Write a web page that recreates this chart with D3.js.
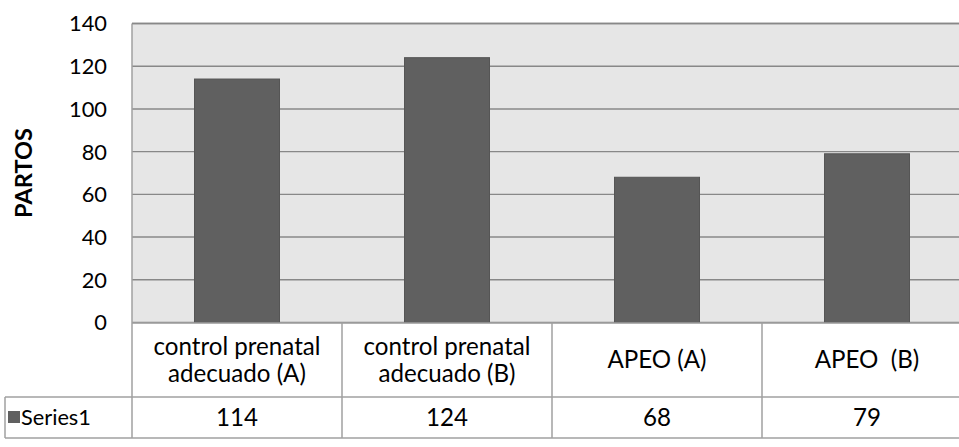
<!DOCTYPE html>
<html><head><meta charset="utf-8">
<script src="https://cdn.jsdelivr.net/npm/d3@7"></script>
<style>html,body{margin:0;padding:0;background:#fff;overflow:hidden}</style>
</head><body>
<svg id="c" width="959" height="447"></svg>
<script>
const categories = [["control prenatal","adecuado (A)"],["control prenatal","adecuado (B)"],["APEO (A)"],["APEO  (B)"]];
const seriesName = "Series1";
const values = [114, 124, 68, 79];
const yTicks = [0, 20, 40, 60, 80, 100, 120, 140];
const yTitle = "PARTOS";

const font = "Lato, 'Open Sans', sans-serif";
const svg = d3.select("#c");
const L = 132, R = 972, T = 23.5, B = 322.5;
const rowDiv = 397, tBot = 438, tLeft = 5;

// helper: font size that makes a sample string a given width
function fitSize(sample, target, weight) {
  const t = svg.append("text").attr("font-family", font).attr("font-size", 100)
    .attr("font-weight", weight || "normal").style("white-space", "pre").text(sample);
  const w = t.node().getComputedTextLength();
  t.remove();
  return 100 * target / w;
}
const fsTick = fitSize("140", 38);
const fsTable = fitSize("control prenatal", 167);
const fsSeries = fitSize(seriesName, 70);
const fsTitle = fitSize(yTitle, 90, "bold");

const x = d3.scaleBand().domain(d3.range(values.length)).range([L, R]).paddingInner(125/210).paddingOuter(125/420);
const y = d3.scaleLinear().domain([0, 140]).range([B, T]);
const step = x.step();

svg.append("rect").attr("x", L).attr("y", T).attr("width", R - L).attr("height", B - T).attr("fill", "#e6e6e6");

svg.append("g").selectAll("line").data(yTicks).join("line")
  .attr("x1", L).attr("x2", R).attr("y1", d => y(d)).attr("y2", d => y(d))
  .attr("stroke", "#888").attr("stroke-width", 1.4);

svg.append("g").selectAll("rect").data(values).join("rect")
  .attr("x", (d, i) => x(i)).attr("width", x.bandwidth())
  .attr("y", d => y(d)).attr("height", d => y(0) - y(d))
  .attr("fill", "#606060").attr("stroke", "#555").attr("stroke-width", 1);

svg.append("g").selectAll("text").data(yTicks).join("text")
  .attr("x", 107).attr("y", d => y(d)).attr("dy", "0.36em")
  .attr("text-anchor", "end").attr("font-family", font).attr("font-size", fsTick).attr("fill", "#000")
  .text(d => d);

svg.append("text").attr("transform", `translate(32,${(T + B) / 2}) rotate(-90)`)
  .attr("text-anchor", "middle").attr("font-family", font).attr("font-size", fsTitle).attr("font-weight", "bold")
  .text(yTitle);

// table lines
const lc = "#a0a0a0";
const g = svg.append("g").attr("stroke", lc).attr("stroke-width", 1.5);
g.append("line").attr("x1", L).attr("x2", 959).attr("y1", B + 0.5).attr("y2", B + 0.5);
g.append("line").attr("x1", tLeft).attr("x2", 959).attr("y1", rowDiv).attr("y2", rowDiv);
g.append("line").attr("x1", tLeft).attr("x2", 959).attr("y1", tBot).attr("y2", tBot);
g.append("line").attr("x1", tLeft).attr("x2", tLeft).attr("y1", rowDiv).attr("y2", tBot);
g.append("line").attr("x1", L).attr("x2", L).attr("y1", T).attr("y2", tBot);
g.selectAll("line.v").data(d3.range(1, values.length + 1)).join("line").attr("class", "v")
  .attr("x1", i => L + i * step).attr("x2", i => L + i * step).attr("y1", B).attr("y2", tBot);
svg.append("line").attr("x1", L).attr("x2", R).attr("y1", T).attr("y2", T).attr("stroke", "#888").attr("stroke-width", 1.4);

// category labels
const cg = svg.append("g").attr("font-family", font).attr("font-size", fsTable).attr("text-anchor", "middle");
categories.forEach((lines, i) => {
  const cx = x(i) + x.bandwidth() / 2;
  const mid = (B + rowDiv) / 2;
  const n = lines.length;
  lines.forEach((t, j) => {
    cg.append("text").attr("x", cx).attr("y", mid + (j - (n - 1) / 2) * 27.5).attr("dy", "0.36em")
      .style("white-space", "pre").text(t);
  });
  cg.append("text").attr("x", cx).attr("y", (rowDiv + tBot) / 2).attr("dy", "0.36em").text(values[i]);
});

svg.append("rect").attr("x", 8).attr("y", 411).attr("width", 12).attr("height", 12).attr("fill", "#606060");
svg.append("text").attr("x", 21).attr("y", (rowDiv + tBot) / 2).attr("dy", "0.36em")
  .attr("font-family", font).attr("font-size", fsSeries).text(seriesName);
</script>
</body></html>
